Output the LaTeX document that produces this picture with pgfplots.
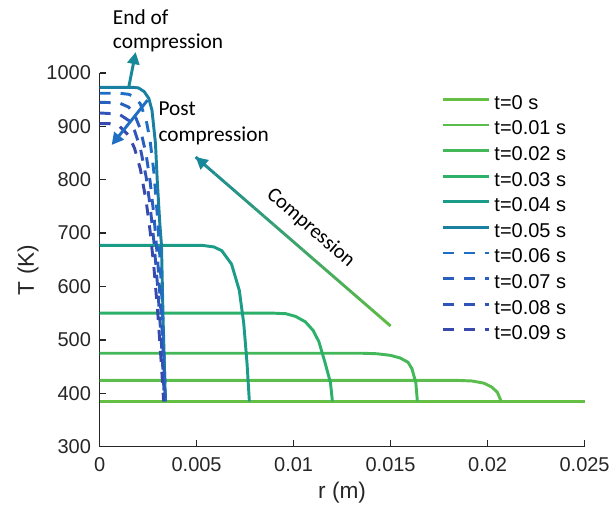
\documentclass[border=0pt]{standalone}
\usepackage{fontspec}
\setmainfont{Liberation Sans}
\newfontfamily\calfont{Carlito}
\usepackage{pgfplots}
\pgfplotsset{compat=1.18}
\usetikzlibrary{arrows.meta,calc}
\definecolor{axgray}{HTML}{262626}
\definecolor{c0}{HTML}{66BF45}
\definecolor{c1}{HTML}{5BBD4C}
\definecolor{c2}{HTML}{44B758}
\definecolor{c3}{HTML}{2DB06A}
\definecolor{c4}{HTML}{1B9C88}
\definecolor{c5}{HTML}{1A80A2}
\definecolor{c6}{HTML}{1F6EC4}
\definecolor{c7}{HTML}{2960BF}
\definecolor{c8}{HTML}{3154B8}
\definecolor{c9}{HTML}{3849AE}
\definecolor{arrA}{HTML}{5DBB46}
\definecolor{arrB}{HTML}{17889A}
\begin{document}
\begin{tikzpicture}
\path[use as bounding box] (-74.7pt,-52pt) rectangle (384.3pt,335pt);
\begin{axis}[
  scale only axis, width=363.75pt, height=280.3pt,
  xmin=0, xmax=0.025, ymin=300, ymax=1000,
  axis x line*=bottom, axis y line*=left,
  axis line style={-, line width=1.1pt, color=axgray},
  tick align=inside, major tick length=5pt,
  tick style={line width=1.1pt, color=axgray},
  xtick={0,0.005,0.01,0.015,0.02,0.025},
  xticklabels={0,0.005,0.01,0.015,0.02,0.025},
  scaled x ticks=false,
  ytick={300,400,500,600,700,800,900,1000},
  /pgf/number format/1000 sep={},
  tick label style={font=\fontsize{15}{18}\selectfont, color=axgray},
  xticklabel style={yshift=-4.5pt},
  yticklabel style={xshift=-3pt},
  /pgf/number format/assume math mode=true,
  xlabel={r (m)}, ylabel={T (K)},
  label style={font=\fontsize{17}{20}\selectfont, color=axgray},
  x label style={at={(axis description cs:0.5,-0.124)}, anchor=center},
  y label style={at={(axis description cs:-0.1476,0.473)}, anchor=center},
  clip=false,
  legend image code/.code={\draw[#1] (0pt,2pt) -- (34.5pt,2pt);},
  legend style={draw=none, fill=none, inner sep=0pt,
    at={(axis description cs:0.7039,0.942)}, anchor=north west,
    font=\fontsize{15}{18}\selectfont, row sep=8.4pt, column sep=2pt,
    nodes={inner xsep=1.2pt, inner ysep=0pt, text height=10.8pt, text depth=0pt}},
  legend cell align=left,
  every axis plot/.append style={line width=2.2pt},
  dashes/.style={dash pattern=on 8.25pt off 7.5pt},
]
\addplot[c0] coordinates {(0,385) (0.025,385)};
\addlegendentry{t=0 s}
\addplot[c1] coordinates {(0,424) (0.0185,424) (0.0192,423) (0.0198,419) (0.0202,412) (0.0205,402) (0.0207,385)};
\addlegendentry{t=0.01 s}
\addplot[c2] coordinates {(0,475) (0.0135,475) (0.0143,474) (0.0150,471) (0.0155,466) (0.0159,458) (0.0161,446) (0.0163,420) (0.01638,385)};
\addlegendentry{t=0.02 s}
\addplot[c3] coordinates {(0,550) (0.0090,550) (0.0096,549) (0.0101,544) (0.0106,534) (0.0110,518) (0.0113,497) (0.0116,460) (0.0119,420) (0.0120,385)};
\addlegendentry{t=0.03 s}
\addplot[c4] coordinates {(0,677) (0.0053,677) (0.0059,674) (0.0063,667) (0.0068,642) (0.0072,593) (0.00743,531) (0.0076,456) (0.00772,385)};
\addlegendentry{t=0.04 s}
\addplot[c5] coordinates {(0,973) (0.0017,973) (0.0020,972) (0.0023,965) (0.00254,952) (0.0027,930) (0.00288,868) (0.00297,800) (0.0031,720) (0.00319,677) (0.00327,543) (0.00339,385)};
\addlegendentry{t=0.05 s}
\addplot[c6, dashes] coordinates {(0,962) (0.001,962) (0.0015,960) (0.0018,955) (0.0021,942) (0.0024,912) (0.0026,874) (0.0028,814) (0.0030,722) (0.0031,660) (0.0032,585) (0.0033,494) (0.0034,385)};
\addlegendentry{t=0.06 s}
\addplot[c7, dashes] coordinates {(0,945) (0.001,944) (0.0015,936) (0.0018,922) (0.0021,895) (0.0024,847) (0.0026,798) (0.0028,733) (0.0030,646) (0.0032,532) (0.0034,385)};
\addlegendentry{t=0.07 s}
\addplot[c8, dashes] coordinates {(0,925) (0.001,923) (0.0015,911) (0.0018,892) (0.0021,859) (0.0024,805) (0.0026,752) (0.0028,684) (0.0030,596) (0.0032,486) (0.00335,385)};
\addlegendentry{t=0.08 s}
\addplot[c9, dashes] coordinates {(0,905) (0.0005,905) (0.001,901) (0.0015,883) (0.0018,859) (0.0021,820) (0.0024,760) (0.0026,705) (0.0028,636) (0.0030,550) (0.0032,445) (0.0033,385)};
\addlegendentry{t=0.09 s}
\coordinate (ct) at (axis cs:0.0150,526);
\coordinate (ch) at (axis cs:0.00495,842.5);
\draw[arrB, line width=2.2pt, -{Triangle[length=9pt,width=9pt]}] (axis cs:0.0015,973) -- (axis cs:0.00186,1039);
\draw[c6, line width=2.2pt, -{Triangle[length=9pt,width=9pt]}] (axis cs:0.00247,949) -- (axis cs:0.00062,865);
\node[anchor=base west, inner sep=0pt, font=\calfont\fontsize{16}{19}\selectfont] at (axis cs:0.000675,1091.6) {End of};
\node[anchor=base west, inner sep=0pt, font=\calfont\fontsize{16}{19}\selectfont] at (axis cs:0.000675,1046.1) {compression};
\node[anchor=base west, inner sep=0pt, font=\calfont\fontsize{16}{19}\selectfont] at (axis cs:0.003026,921.2) {Post};
\node[anchor=base west, inner sep=0pt, font=\calfont\fontsize{16}{19}\selectfont] at (axis cs:0.003026,871.2) {compression};
\node[rotate=-41, inner sep=0pt, font=\calfont\fontsize{15.5}{19}\selectfont] at (axis cs:0.01088,709.5) {Compression};
\end{axis}
\foreach \i in {0,...,19}{
  \pgfmathtruncatemacro\p{100-5*\i}
  \draw[line width=2.2pt, color=arrA!\p!arrB] ($(ct)!\i/20!(ch)$) -- ($(ct)!{(\i+1)/20}!(ch)$);
}
\draw[arrB, line width=2.2pt, -{Triangle[length=9pt,width=9pt]}] ($(ct)!0.95!(ch)$) -- (ch);
\end{tikzpicture}
\end{document}
